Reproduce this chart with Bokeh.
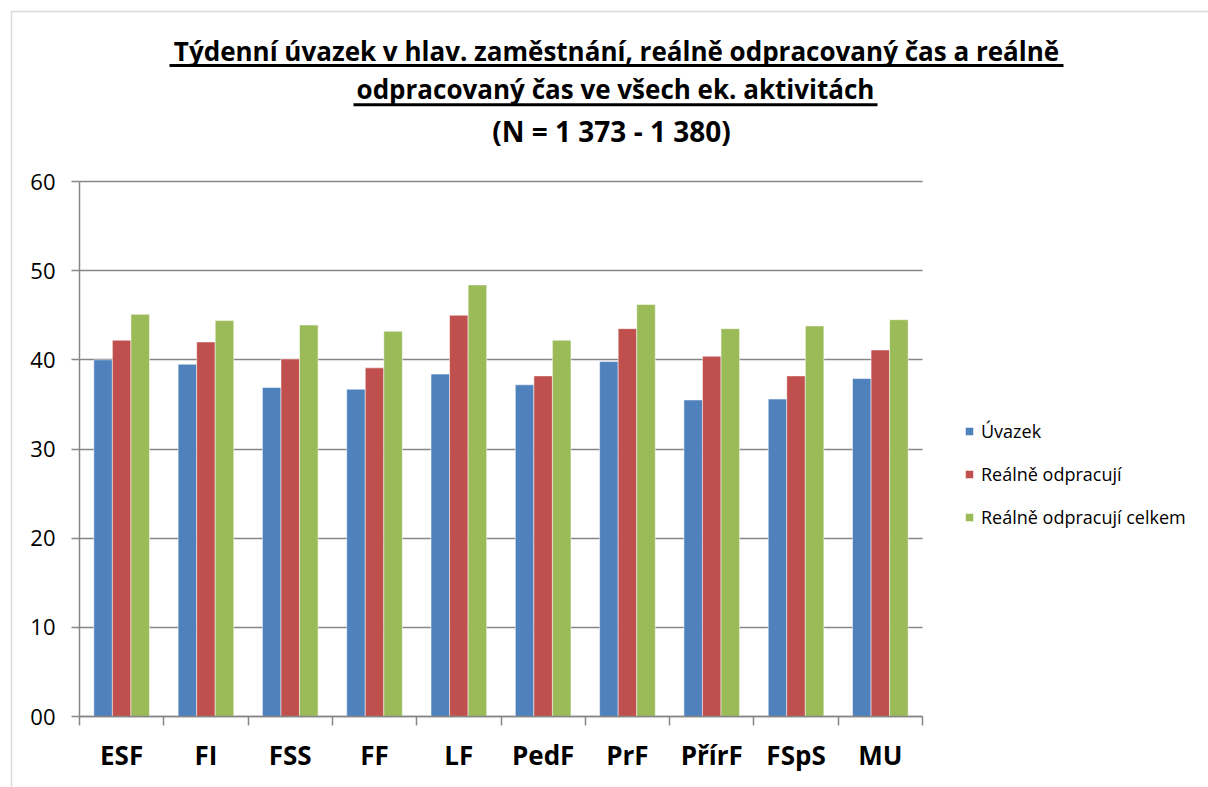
from bokeh.plotting import figure
from bokeh.models import (Range1d, FixedTicker, Legend, LegendItem, Label,
                          BoxAnnotation)
from bokeh.embed import file_html
from bokeh.resources import INLINE
import numpy as np

# ---- data ----
categories = ["ESF", "FI", "FSS", "FF", "LF", "PedF", "PrF", "PřírF", "FSpS", "MU"]
uvazek = [40.0, 39.5, 36.9, 36.7, 38.4, 37.2, 39.8, 35.5, 35.6, 37.9]
realne = [42.2, 42.0, 40.1, 39.1, 45.0, 38.2, 43.5, 40.4, 38.2, 41.1]
celkem = [45.1, 44.4, 43.9, 43.2, 48.4, 42.2, 46.2, 43.5, 43.8, 44.5]
series_names = ["Úvazek", "Reálně odpracují", "Reálně odpracují celkem"]
colors = ["#4F81BD", "#C0504D", "#9BBB59"]
y_ticks = [0, 10, 20, 30, 40, 50, 60]
title_lines = ["Týdenní úvazek v hlav. zaměstnání, reálně odpracovaný čas a reálně",
               "odpracovaný čas ve všech ek. aktivitách",
               "(N = 1 373 - 1 380)"]

FONT = "Open Sans"
W, H = 1208, 787
FL, FT = 79, 181          # plot area left / top on page
FW, FH = 843, 535         # plot area size
AXY = FT + FH             # page y of the value 0
n = len(categories)
YMAX = 60
ppx = FW / n
ppy = FH / YMAX

# page pixel -> data coordinates (layout only)
def dx(px):
    return (px - FL) / ppx

def dy(py):
    return (AXY - py) / ppy

p = figure(width=W, height=H, output_backend="svg", toolbar_location=None,
           x_range=Range1d(dx(0), dx(W)), y_range=Range1d(dy(H), dy(0)),
           min_border=0)
p.outline_line_color = None
p.xgrid.visible = False

GRID = "#868686"
yg = p.ygrid[0]
yg.ticker = FixedTicker(ticks=y_ticks)
yg.grid_line_color = GRID
yg.grid_line_width = 1.5
yg.bounds = (0, YMAX)
try:
    yg.cross_bounds = (0, n)
except AttributeError:
    yg.visible = False
    p.segment(x0=[0] * len(y_ticks), x1=[n] * len(y_ticks), y0=y_ticks,
              y1=y_ticks, line_color=GRID, line_width=1.5)

idx = np.arange(n) + 0.5
bw = 0.22
renderers = []
for k, (vals, c) in enumerate(zip([uvazek, realne, celkem], colors)):
    r = p.vbar(x=idx + (k - 1) * bw, top=vals, width=bw, bottom=0,
               fill_color=c, line_color="white", line_alpha=0.5, line_width=1)
    renderers.append(r)

# y axis
ya = p.yaxis[0]
ya.fixed_location = 0
ya.bounds = (0, YMAX)
ya.ticker = FixedTicker(ticks=y_ticks)
ya.major_label_overrides = {0: "00"}
ya.minor_tick_line_color = None
ya.major_tick_in = 0
ya.major_tick_out = 8
ya.major_tick_line_color = GRID
ya.major_tick_line_width = 1.5
ya.axis_line_color = GRID
ya.axis_line_width = 1.5
ya.major_label_text_font = FONT
ya.major_label_text_font_size = "22px"
ya.major_label_text_color = "black"
ya.major_label_standoff = 16

# x axis: labels at centres, ticks at boundaries
xa = p.xaxis[0]
xa.fixed_location = 0
xa.bounds = (0, n)
xa.ticker = FixedTicker(ticks=list(idx), minor_ticks=list(range(n + 1)))
xa.major_label_overrides = {float(v): c for v, c in zip(idx, categories)}
xa.major_tick_in = 0
xa.major_tick_out = 0
xa.minor_tick_in = 0
xa.minor_tick_out = 9
xa.minor_tick_line_color = GRID
xa.minor_tick_line_width = 1.5
xa.axis_line_color = GRID
xa.axis_line_width = 1.5
xa.major_label_text_font = FONT
xa.major_label_text_font_style = "bold"
xa.major_label_text_font_size = "26px"
xa.major_label_text_color = "black"
xa.major_label_standoff = 11

# legend (location = bottom-left corner, screen px from bottom-left)
items = [LegendItem(label=s, renderers=[r]) for s, r in zip(series_names, renderers)]
legend = Legend(items=items, location=(964, H - 529), orientation="vertical",
                glyph_width=10, glyph_height=10, label_height=20,
                label_standoff=7, spacing=19, padding=0, margin=0,
                border_line_color=None, background_fill_alpha=0,
                label_text_font=FONT, label_text_font_size="18px",
                label_text_color="black")
p.add_layout(legend, "center")

# title (baseline on page, centre x on page, font size)
baselines = [61.0, 99.0, 142.5]
centers = [616, 615, 611]
sizes = [26, 26, 28]
for t, b, c, s in zip(title_lines, baselines, centers, sizes):
    p.add_layout(Label(x=dx(c), y=dy(b - 0.42 * s), text=t, text_align="center",
                       text_baseline="alphabetic", text_font=FONT,
                       text_font_style="bold", text_font_size=f"{s}px",
                       text_color="black"))
for (l, r_, yy) in [(169, 1063, 65), (353, 877, 104.3)]:
    p.add_layout(BoxAnnotation(left=dx(l), right=dx(r_), top=dy(yy - 1.5),
                               bottom=dy(yy + 1.5), fill_color="black",
                               fill_alpha=1, line_color=None))

# outer chart border
p.add_layout(BoxAnnotation(left=dx(11), right=dx(W + 50), top=dy(11),
                           bottom=dy(H + 50), fill_alpha=0,
                           line_color="#888888", line_width=1.5))

open("out.html", "w").write(file_html(p, INLINE))
